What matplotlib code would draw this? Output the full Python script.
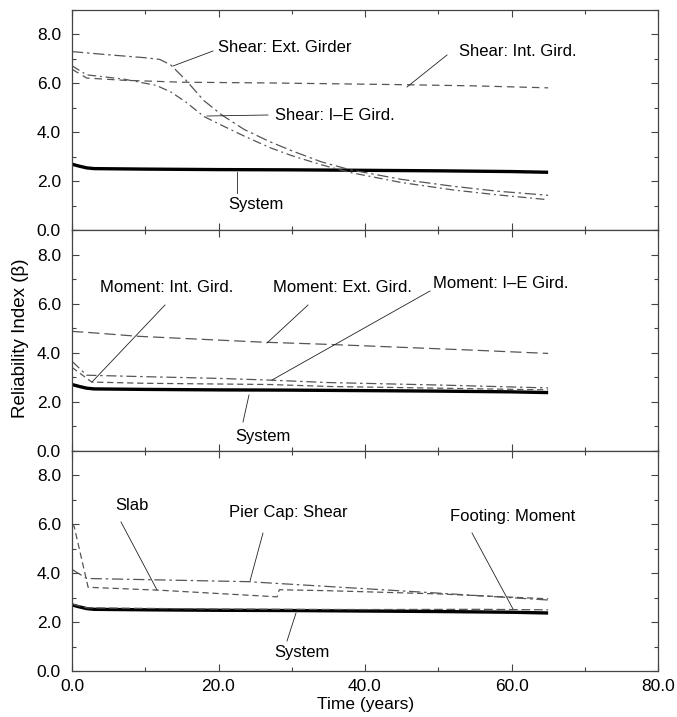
import matplotlib
matplotlib.use("Agg")
import matplotlib.pyplot as plt
from matplotlib.ticker import MultipleLocator, FormatStrFormatter

plt.rcParams['font.family'] = ['Liberation Sans', 'DejaVu Sans']

# ---- data ----
sys_t = [0, 1, 2, 3, 10, 20, 30, 40, 50, 60, 65]
sys_v = [2.70, 2.62, 2.55, 2.52, 2.50, 2.48, 2.47, 2.45, 2.43, 2.40, 2.37]

shear_ext_t = [0, 5, 10, 12, 13.5, 15.5, 18, 20.5, 23.5, 27, 30, 34, 38, 45, 52, 58, 65]
shear_ext_v = [7.30, 7.17, 7.05, 6.98, 6.75, 6.15, 5.30, 4.70, 4.12, 3.62, 3.25, 2.80, 2.47, 2.08, 1.80, 1.60, 1.43]
shear_ie_t = [0, 2, 7, 11.5, 13.5, 15.5, 18, 20.5, 23.5, 27, 30, 34, 38, 45, 52, 58, 65]
shear_ie_v = [6.72, 6.35, 6.18, 5.92, 5.65, 5.25, 4.65, 4.28, 3.85, 3.38, 3.05, 2.68, 2.36, 1.95, 1.65, 1.45, 1.25]
shear_int_t = [0, 2, 7, 15, 27, 45, 55, 65]
shear_int_v = [6.58, 6.22, 6.13, 6.05, 6.02, 5.95, 5.90, 5.82]

mom_ext_t = [0, 2.5, 9, 26, 34, 45, 55, 65]
mom_ext_v = [4.87, 4.82, 4.67, 4.43, 4.35, 4.22, 4.10, 3.97]
mom_ie_t = [0, 2, 10, 20, 27, 35, 50, 65]
mom_ie_v = [3.65, 3.08, 3.02, 2.95, 2.88, 2.78, 2.68, 2.56]
mom_int_t = [0, 2.7, 10, 27, 35, 50, 65]
mom_int_v = [3.40, 2.80, 2.75, 2.70, 2.62, 2.55, 2.48]

pier_t = [0, 2, 24, 34, 49, 65]
pier_v = [4.15, 3.78, 3.65, 3.47, 3.20, 2.90]
slab_t = [0, 0.3, 2.2, 12, 28, 28.3, 35, 50, 65]
slab_v = [6.00, 5.90, 3.42, 3.30, 3.03, 3.32, 3.28, 3.15, 2.95]
foot_t = [0, 2, 20, 40, 55, 65]
foot_v = [2.74, 2.58, 2.53, 2.51, 2.52, 2.50]

x_ticks = [0, 20, 40, 60, 80]
y_ticks = [0, 2, 4, 6, 8]

# ---- figure ----
W, H = 677, 717
fig = plt.figure(figsize=(W / 100, H / 100), dpi=100)

def px2fig(x, y):
    return x / W, 1 - y / H

left, right = 72, 658
tops = [10, 230.3, 450.7]
ph = 220.3
axes = []
for t0 in tops:
    ax = fig.add_axes([left / W, 1 - (t0 + ph) / H, (right - left) / W, ph / H])
    axes.append(ax)

gc = '#555555'
lw = 0.9
for ax in axes:
    ax.plot(sys_t, sys_v, color='black', lw=2.4, solid_capstyle='butt')
    ax.set_xlim(0, 80)
    ax.set_ylim(0, 9)
    ax.set_xticks(x_ticks)
    ax.set_yticks(y_ticks)
    ax.xaxis.set_minor_locator(MultipleLocator(10))
    ax.yaxis.set_minor_locator(MultipleLocator(1))
    ax.yaxis.set_major_formatter(FormatStrFormatter('%.1f'))
    ax.xaxis.set_major_formatter(FormatStrFormatter('%.1f'))
    ax.tick_params(which='both', direction='in', top=True, right=True,
                   labelsize=12.5, color='#444444', width=0.8)
    ax.tick_params(which='major', length=5)
    ax.tick_params(which='minor', length=3)
    ax.tick_params(axis='y', which='major', pad=8)
    ax.tick_params(axis='x', which='major', pad=6)
    for s in ax.spines.values():
        s.set_color('#444444')
        s.set_linewidth(0.9)

for ax in axes[:2]:
    ax.tick_params(labelbottom=False)

a0, a1, a2 = axes
a0.plot(shear_ext_t, shear_ext_v, color=gc, lw=lw, dashes=(9, 3, 2, 3))
a0.plot(shear_ie_t, shear_ie_v, color=gc, lw=lw, dashes=(7, 3, 1.5, 3))
a0.plot(shear_int_t, shear_int_v, color=gc, lw=lw, dashes=(6, 4))

a1.plot(mom_ext_t, mom_ext_v, color=gc, lw=lw, dashes=(9, 4))
a1.plot(mom_ie_t, mom_ie_v, color=gc, lw=lw, dashes=(8, 3, 2, 3))
a1.plot(mom_int_t, mom_int_v, color=gc, lw=lw, dashes=(5, 3))

a2.plot(pier_t, pier_v, color=gc, lw=lw, dashes=(9, 3, 2, 3))
a2.plot(slab_t, slab_v, color=gc, lw=lw, dashes=(5, 3))
a2.plot(foot_t, foot_v, color=gc, lw=lw, dashes=(7, 3))

# annotations in pixel coordinates of the figure
def label(text, tx, ty, x0, y0, x1, y1, ha='left'):
    fx, fy = px2fig(tx, ty)
    fig.text(fx, fy, text, fontsize=12, ha=ha, va='center')
    p0 = px2fig(x0, y0)
    p1 = px2fig(x1, y1)
    fig.add_artist(plt.Line2D([p0[0], p1[0]], [p0[1], p1[1]],
                              transform=fig.transFigure, color='#222222', lw=0.6))

label("Shear: Ext. Girder", 218, 48, 213, 51, 173, 66)
label("Shear: Int. Gird.", 459, 52, 447, 55, 407, 87)
label("Shear: I\u2013E Gird.", 275, 116, 268, 115, 207, 116)
label("System", 228, 205, 237, 172, 237, 193)

label("Moment: Int. Gird.", 100, 287, 165, 305, 92, 382)
label("Moment: Ext. Gird.", 273, 288, 308, 305, 267, 343)
label("Moment: I\u2013E Gird.", 433, 283, 430, 291, 272, 380)
label("System", 235, 436, 249, 395, 243, 422)

label("Slab", 115, 505, 121, 522, 157, 590)
label("Pier Cap: Shear", 229, 512, 263, 533, 250, 581)
label("Footing: Moment", 450, 516, 472, 533, 513, 609)
label("System", 274, 653, 296, 613, 287, 641)

fx, fy = px2fig(21, 338)
fig.text(fx, fy, "Reliability Index (\u03b2)", rotation=90, fontsize=13.5,
         ha='center', va='center')
fx, fy = px2fig(366, 705)
fig.text(fx, fy, "Time (years)", fontsize=12.5, ha='center', va='center')

fig.savefig("out.png", dpi=100)
